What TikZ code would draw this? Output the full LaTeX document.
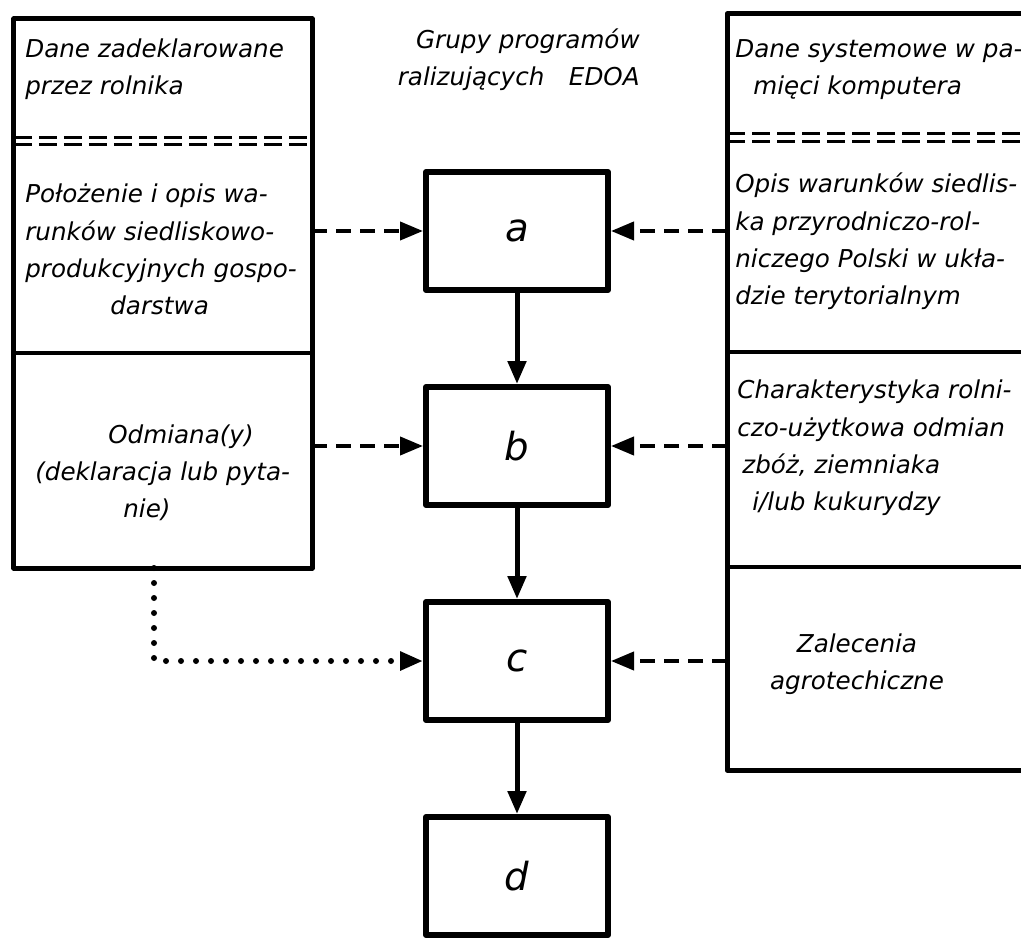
\documentclass[tikz,border=0pt]{standalone}
\usepackage{fontspec}
\setmainfont{DejaVu Sans}
\usetikzlibrary{arrows.meta,positioning}
\begin{document}
\begin{tikzpicture}[x=0.2mm,y=-0.2mm,>={Triangle[length=4.6mm,width=3.6mm]},line join=round,
    font=\fontsize{14pt}{21.3pt}\selectfont\itshape,
    panel/.style={draw,line width=1mm,outer sep=0pt,inner sep=0pt},
    prog/.style={draw,line width=1.2mm,minimum width=36.4mm,minimum height=23.6mm,inner sep=0pt,
        font=\fontsize{22pt}{22pt}\selectfont\itshape},
    note/.style={align=left,inner sep=0pt,anchor=base west},
    sep/.style={line width=0.6mm,dash pattern=on 3.6mm off 1.4mm},
    cut/.style={line width=0.7mm},
    flow/.style={->,line width=1mm},
    data/.style={->,line width=0.8mm,dash pattern=on 3mm off 1.8mm},
    hint/.style={->,line width=1.2mm,line cap=round,dash pattern=on 0pt off 3mm},
    node distance=18.2mm]
    \useasboundingbox (0,0) rectangle (1021,941);
    \clip (0,0) rectangle (1021,941);
    %Panele danych
    \node[panel,minimum width=59.6mm,minimum height=109.8mm] (farmer) at (163,293.5) {};
    \node[panel,minimum width=63.6mm,minimum height=151.2mm] (system) at (886,392) {};
    \foreach \y in {138,145} \draw[sep] (farmer.west |- 0,\y) -- (farmer.east |- 0,\y);
    \draw[cut] (farmer.west |- 0,353) -- (farmer.east |- 0,353);
    \foreach \y in {134,142} \draw[sep] (system.west |- 0,\y) -- (system.east |- 0,\y);
    \foreach \y in {352,567} \draw[cut] (system.west |- 0,\y) -- (system.east |- 0,\y);
    %Teksty (baseline ostatniej linii)
    \node[note] (f1) at (25,95) {Dane zadeklarowane\\przez rolnika};
    \node[note] (f2) at (25,315) {Położenie i opis wa-\\runków siedliskowo-\\produkcyjnych gospo-\\\hspace*{17mm}darstwa};
    \node[note] (f3) at (35,518) {\hspace*{14.6mm}Odmiana(y)\\(deklaracja lub pyta-\\\hspace*{17.6mm}nie)};
    \node[note] (s1) at (735,95) {Dane systemowe w pa-\\\hspace*{3.6mm}mięci komputera};
    \node[note] (s2) at (735,305) {Opis warunków siedlis-\\ka przyrodniczo-rol-\\niczego Polski w ukła-\\dzie terytorialnym};
    \node[note] (s3) at (737,511) {Charakterystyka rolni-\\czo-użytkowa odmian\\\hspace*{1mm}zbóż, ziemniaka\\\hspace*{3mm}i/lub kukurydzy};
    \node[align=center,inner sep=0pt] (s4) at (857,664) {Zalecenia\\agrotechiczne};
    \node[note,align=right,anchor=base east] (title) at (640,86) {Grupy programów\\ralizujących\quad EDOA};
    %Grupy programow
    \node[prog] (a) at (517,231) {a};
    \node[prog,below=of a] (b) {b};
    \node[prog,below=of b] (c) {c};
    \node[prog,below=of c] (d) {d};
    \foreach \u/\v in {a/b,b/c,c/d} \draw[flow] (\u) -- (\v);
    %Przeplyw danych
    \draw[data] (farmer.east |- a) -- (a);
    \draw[data] (system.west |- a) -- (a);
    \draw[data] (farmer.east |- b) -- (b);
    \draw[data] (system.west |- b) -- (b);
    \draw[data] (system.west |- c) -- (c);
    \draw[hint] ([xshift=28mm]farmer.south west) |- (c);
\end{tikzpicture}
\end{document}
